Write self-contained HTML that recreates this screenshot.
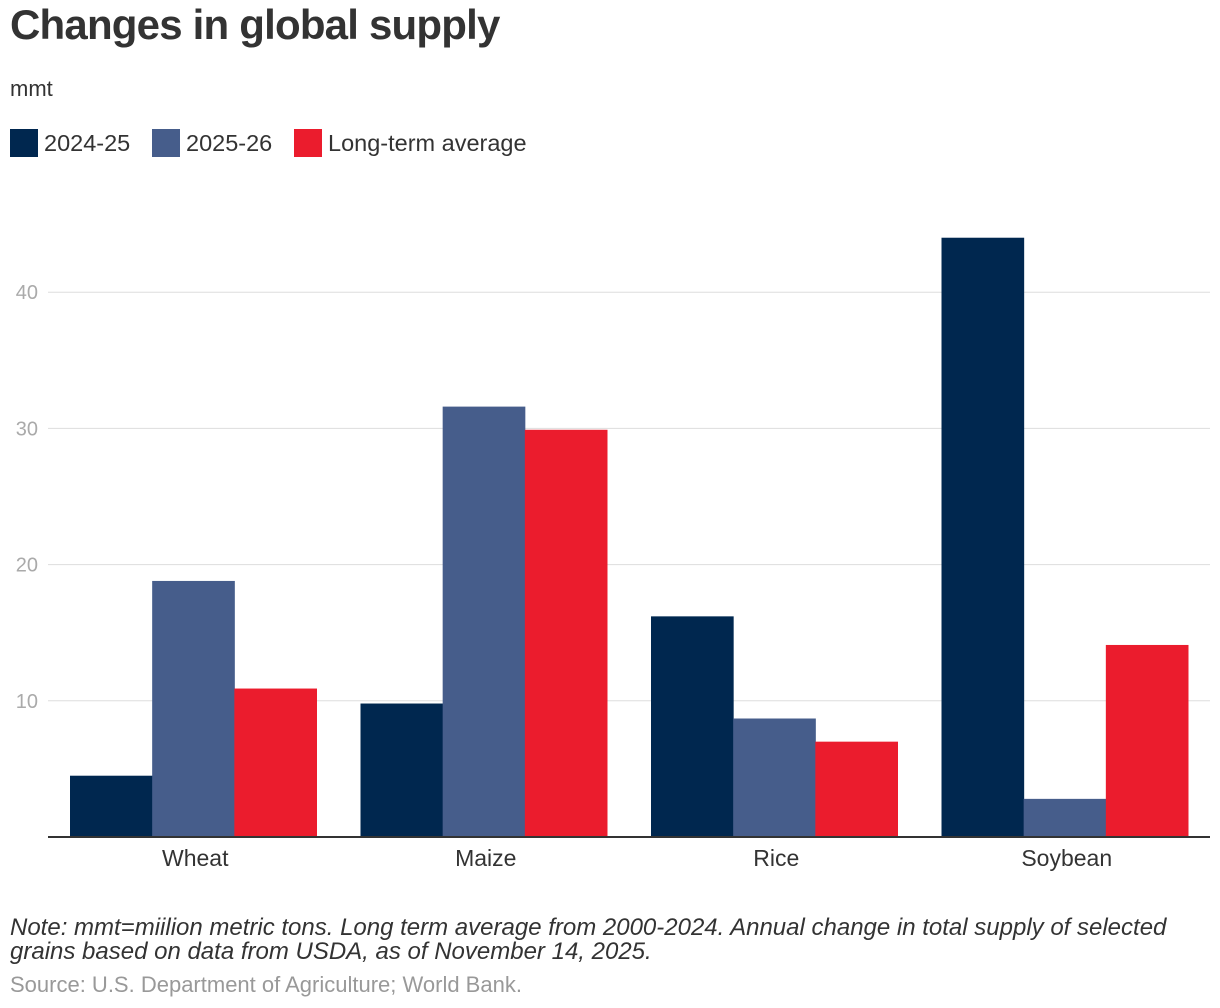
<!DOCTYPE html>
<html><head><meta charset="utf-8"><style>
body{margin:0;width:1220px;height:1008px;background:#fff;font-family:"Liberation Sans",sans-serif;color:#333;position:relative;overflow:hidden}
.t{position:absolute;white-space:nowrap}
.sw{position:absolute;top:129px;width:28px;height:28px}
.lt{position:absolute;top:128px;font-size:23.5px;line-height:30px}
</style></head><body>
<div class="t" style="left:10px;top:1px;font-size:42px;font-weight:bold;letter-spacing:-0.8px;color:#333">Changes in global supply</div>
<div class="t" style="left:10px;top:76px;font-size:22px">mmt</div>
<div>
 <div><span class="sw" style="left:10px;background:#00274f"></span><span class="lt" style="left:44px">2024-25</span></div>
 <div><span class="sw" style="left:152px;background:#465d8b"></span><span class="lt" style="left:186px">2025-26</span></div>
 <div><span class="sw" style="left:294px;background:#eb1c2d"></span><span class="lt" style="left:328px">Long-term average</span></div>
</div>
<svg id="chart" width="1220" height="1008" style="position:absolute;left:0;top:0"></svg>
<div class="t" style="left:10px;top:916px;font-size:24px;font-style:italic;line-height:23.5px;color:#333">Note: mmt=miilion metric tons. Long term average from 2000-2024. Annual change in total supply of selected<br>grains based on data from USDA, as of November 14, 2025.</div>
<div class="t" style="left:10px;top:972px;font-size:22px;color:#999">Source: U.S. Department of Agriculture; World Bank.</div>
<script>
const categories=["Wheat","Maize","Rice","Soybean"];
const s2024=[4.5,9.8,16.2,44.0];
const s2025=[18.8,31.6,8.7,2.8];
const sLTA=[10.9,29.9,7.0,14.1];
const ticks=[10,20,30,40];
const series=[{n:"2024-25",v:s2024,c:"#00274f"},{n:"2025-26",v:s2025,c:"#465d8b"},{n:"long-term-average",v:sLTA,c:"#eb1c2d"}];
const NS="http://www.w3.org/2000/svg",svg=document.getElementById("chart");
const L=48,R=1210,B=837,pxPer=13.62;
const y=v=>B-v*pxPer;
const band=(R-L)/categories.length,pad=22,bw=(band-2*pad)/3;
function mk(t,a){const e=document.createElementNS(NS,t);for(const k in a)e.setAttribute(k,a[k]);svg.appendChild(e);return e;}
ticks.forEach(t=>{
 const g=mk("line",{x1:L,x2:R,y1:y(t),y2:y(t),stroke:"#ddd","stroke-width":1});
 
 
 const tx=mk("text",{x:38,y:y(t)+7,"text-anchor":"end","font-size":20,fill:"#aaa","font-family":"Liberation Sans, sans-serif"});
 tx.textContent=t;
 
 
});
categories.forEach((c,i)=>{
 series.forEach((s,j)=>{
  const r=mk("rect",{x:L+i*band+pad+j*bw,y:y(s.v[i]),width:bw+0.5,height:s.v[i]*pxPer,fill:s.c});
  
  
 });
 const tx=mk("text",{x:L+i*band+band/2+2,y:866,"text-anchor":"middle","font-size":23,fill:"#333","font-family":"Liberation Sans, sans-serif"});
 tx.textContent=c;
 
 
});
const ax=mk("line",{x1:L,x2:R,y1:B,y2:B,stroke:"#333","stroke-width":2});


</script>
</body></html>
